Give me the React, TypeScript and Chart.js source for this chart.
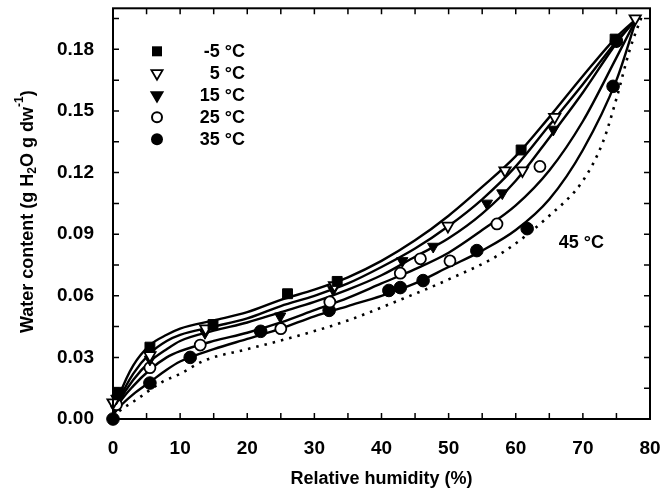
import React, { useEffect, useRef } from "react";
import Chart from "chart.js/auto";

// ---- axis ticks ----
const xTicks = [0, 10, 20, 30, 40, 50, 60, 70, 80];
const yTicks = [0, 0.03, 0.06, 0.09, 0.12, 0.15, 0.18];
const seriesLabels = ["-5 °C", "5 °C", "15 °C", "25 °C", "35 °C"];
const dottedLabel = "45 °C";

// ---- fitted curves ----
const curveRH = [0, 1, 3, 5.5, 8, 10, 15, 20, 25, 30, 35, 40, 45, 50, 55, 60, 65, 70, 75, 78];
const curveM5 = [0.002, 0.012, 0.026, 0.036, 0.041, 0.044, 0.048, 0.052, 0.058, 0.063, 0.069, 0.077, 0.087, 0.099, 0.113, 0.128, 0.147, 0.167, 0.186, 0.195];
const curve5 = [0.002, 0.010, 0.022, 0.032, 0.038, 0.041, 0.045, 0.049, 0.055, 0.060, 0.066, 0.074, 0.083, 0.094, 0.107, 0.123, 0.143, 0.163, 0.184, 0.195];
const curve15 = [0.002, 0.009, 0.019, 0.028, 0.034, 0.038, 0.043, 0.047, 0.052, 0.057, 0.063, 0.070, 0.079, 0.088, 0.100, 0.116, 0.137, 0.159, 0.183, 0.195];
const curve25 = [0.002, 0.008, 0.016, 0.024, 0.030, 0.033, 0.038, 0.042, 0.047, 0.053, 0.059, 0.066, 0.073, 0.081, 0.092, 0.104, 0.121, 0.145, 0.176, 0.195];
const curve35 = [0.002, 0.006, 0.012, 0.018, 0.024, 0.028, 0.034, 0.039, 0.044, 0.050, 0.055, 0.060, 0.066, 0.074, 0.082, 0.092, 0.107, 0.131, 0.165, 0.195];
const curve45RH = [0, 1, 3.3, 7.3, 10, 13.7, 20, 27, 35, 42, 50, 58, 65, 70, 73, 75, 77, 79];
const curve45 = [0.001, 0.004, 0.009, 0.018, 0.022, 0.0286, 0.034, 0.040, 0.048, 0.057, 0.068, 0.081, 0.099, 0.116, 0.135, 0.156, 0.180, 0.198];

// ---- measured points ----
const ptsM5RH = [0.8, 5.5, 14.9, 26, 33.4, 60.8, 74.8];
const ptsM5W = [0.013, 0.035, 0.046, 0.061, 0.067, 0.131, 0.185];
const pts5RH = [0, 5.5, 13.8, 33, 49.9, 58.4, 61, 65.8, 77.8];
const pts5W = [0.008, 0.031, 0.044, 0.065, 0.094, 0.121, 0.121, 0.147, 0.195];
const pts15RH = [0.5, 5.5, 13.7, 24.9, 32.8, 43.1, 47.7, 55.7, 58, 65.6, 75];
const pts15W = [0.010, 0.029, 0.042, 0.050, 0.063, 0.077, 0.084, 0.105, 0.110, 0.141, 0.184];
const pts25RH = [0.5, 5.5, 13, 25, 32.3, 42.8, 45.8, 50.2, 57.2, 63.6];
const pts25W = [0.007, 0.025, 0.036, 0.044, 0.057, 0.071, 0.078, 0.077, 0.095, 0.123];
const pts35RH = [0, 5.5, 11.5, 22, 32.2, 41.1, 42.8, 46.2, 54.2, 61.7, 74.5, 75];
const pts35W = [0, 0.0175, 0.030, 0.0427, 0.0529, 0.0626, 0.064, 0.0674, 0.082, 0.0927, 0.162, 0.184];

const FONT = "'Liberation Sans', Arial, Helvetica, sans-serif";

const toXY = (xs: number[], ys: number[]) => xs.map((x, i) => ({ x, y: ys[i] }));

function drawMarker(ctx: CanvasRenderingContext2D, kind: number, x: number, y: number) {
  ctx.save();
  ctx.lineWidth = 1.8;
  ctx.strokeStyle = "#000";
  ctx.fillStyle = "#000";
  ctx.beginPath();
  if (kind === 0) {
    ctx.rect(x - 5, y - 5, 10, 10);
    ctx.fill();
  } else if (kind === 1 || kind === 2) {
    ctx.moveTo(x - 5.6, y - 3.2);
    ctx.lineTo(x + 5.6, y - 3.2);
    ctx.lineTo(x, y + 6.4);
    ctx.closePath();
    if (kind === 1) {
      ctx.fillStyle = "#fff";
      ctx.fill();
      ctx.stroke();
    } else {
      ctx.fill();
      ctx.stroke();
    }
  } else if (kind === 3) {
    ctx.arc(x, y, 5, 0, Math.PI * 2);
    ctx.fillStyle = "#fff";
    ctx.fill();
    ctx.lineWidth = 2;
    ctx.stroke();
  } else {
    ctx.arc(x, y, 6, 0, Math.PI * 2);
    ctx.fill();
  }
  ctx.restore();
}

const framePlugin = {
  id: "frameTicks",
  afterDraw(chart: any) {
    const { ctx, chartArea, scales } = chart;
    const { left, right, top, bottom } = chartArea;
    const xs = scales.x;
    const ys = scales.y;
    ctx.save();
    ctx.strokeStyle = "#000";
    ctx.lineWidth = 2;
    ctx.strokeRect(left, top, right - left, bottom - top);
    ctx.lineWidth = 1.5;
    const tl = 6;
    ctx.beginPath();
    for (let v = 0; v <= 80.001; v += 5) {
      const px = xs.getPixelForValue(v);
      ctx.moveTo(px, bottom);
      ctx.lineTo(px, bottom - tl);
      ctx.moveTo(px, top);
      ctx.lineTo(px, top + tl);
    }
    for (let k = 0; k <= 13; k++) {
      const py = ys.getPixelForValue(k * 0.015);
      ctx.moveTo(left, py);
      ctx.lineTo(left + tl, py);
      ctx.moveTo(right, py);
      ctx.lineTo(right - tl, py);
    }
    ctx.stroke();

    // legend
    ctx.font = `bold 18px ${FONT}`;
    ctx.fillStyle = "#000";
    ctx.textAlign = "right";
    ctx.textBaseline = "middle";
    for (let i = 0; i < seriesLabels.length; i++) {
      const ry = top + 43 + i * 22;
      drawMarker(ctx, i, left + 44, ry);
      ctx.fillText(seriesLabels[i], left + 132, ry + 1);
    }

    // 45 °C label
    ctx.textAlign = "left";
    ctx.fillText(dottedLabel, xs.getPixelForValue(66.4), ys.getPixelForValue(0.0855));

    // y-axis title with sub/superscript
    const cx = 28;
    const cy = (top + bottom) / 2 - 2;
    const big = `bold 18px ${FONT}`;
    const small = `bold 12px ${FONT}`;
    const parts: [string, string, number][] = [
      ["Water content (g H", big, 0],
      ["2", small, 5],
      ["O g dw", big, 0],
      ["-1", small, -8],
      [")", big, 0],
    ];
    let total = 0;
    for (const p of parts) {
      ctx.font = p[1];
      total += ctx.measureText(p[0]).width;
    }
    ctx.translate(cx, cy);
    ctx.rotate(-Math.PI / 2);
    ctx.textAlign = "left";
    ctx.textBaseline = "middle";
    let pos = -total / 2;
    for (const p of parts) {
      ctx.font = p[1];
      ctx.fillText(p[0], pos, p[2]);
      pos += ctx.measureText(p[0]).width;
    }
    ctx.restore();
  },
};

export default function App() {
  const ref = useRef<HTMLCanvasElement | null>(null);
  useEffect(() => {
    if (!ref.current) return;
    const curve = (xs: number[], ys: number[], dashed = false) => ({
      type: "line" as const,
      data: toXY(xs, ys),
      borderColor: "#000",
      borderWidth: dashed ? 2.6 : 2.4,
      borderDash: dashed ? [2.5, 6] : [],
      pointRadius: 0,
      cubicInterpolationMode: "monotone" as const,
      fill: false,
      order: 2,
      clip: false as any,
    });
    const pts = (xs: number[], ys: number[], style: string, filled: boolean, radius: number, rotation = 0) => ({
      type: "line" as const,
      data: toXY(xs, ys),
      showLine: false,
      pointStyle: style,
      pointRotation: rotation,
      pointRadius: radius,
      pointBackgroundColor: filled ? "#000" : "#fff",
      pointBorderColor: "#000",
      pointBorderWidth: filled ? 1 : 1.8,
      order: 1,
      clip: false as any,
    });
    const chart = new Chart(ref.current, {
      type: "line",
      data: {
        datasets: [
          curve(curveRH, curveM5),
          curve(curveRH, curve5),
          curve(curveRH, curve15),
          curve(curveRH, curve25),
          curve(curveRH, curve35),
          curve(curve45RH, curve45, true),
          pts(ptsM5RH, ptsM5W, "rect", true, 7),
          pts(pts5RH, pts5W, "triangle", false, 6.5, 180),
          pts(pts15RH, pts15W, "triangle", true, 6.5, 180),
          pts(pts25RH, pts25W, "circle", false, 5.5),
          pts(pts35RH, pts35W, "circle", true, 6.3),
        ] as any,
      },
      options: {
        responsive: false,
        animation: false,
        events: [],
        layout: { padding: { top: 7, right: 13, left: 0, bottom: 0 } },
        plugins: { legend: { display: false }, tooltip: { enabled: false } },
        scales: {
          x: {
            type: "linear",
            min: 0,
            max: 80,
            grid: { display: false },
            border: { display: false },
            afterBuildTicks: (s: any) => {
              s.ticks = xTicks.map((v) => ({ value: v }));
            },
            afterFit: (s: any) => {
              s.height = 75;
              s.paddingLeft = 0;
              s.paddingRight = 0;
            },
            ticks: {
              color: "#000",
              padding: 10,
              font: { size: 19, family: FONT, weight: "bold" },
              maxRotation: 0,
              callback: (v: any) => String(v),
            },
            title: {
              display: true,
              text: "Relative humidity (%)",
              color: "#000",
              font: { size: 18, family: FONT, weight: "bold" },
              padding: { top: 6 },
            },
          },
          y: {
            type: "linear",
            min: 0,
            max: 0.2,
            grid: { display: false },
            border: { display: false },
            afterBuildTicks: (s: any) => {
              s.ticks = yTicks.map((v) => ({ value: v }));
            },
            afterFit: (s: any) => {
              s.width = 113;
              s.paddingTop = 0;
              s.paddingBottom = 0;
            },
            ticks: {
              color: "#000",
              padding: 11,
              font: { size: 19, family: FONT, weight: "bold" },
              callback: (v: any) => Number(v).toFixed(2),
            },
          },
        },
      },
      plugins: [framePlugin],
    });
    return () => chart.destroy();
  }, []);
  return (
    <div style={{ position: "absolute", left: 0, top: 0, width: 663, height: 494, background: "#fff" }}>
      <canvas ref={ref} width={663} height={494} />
    </div>
  );
}
